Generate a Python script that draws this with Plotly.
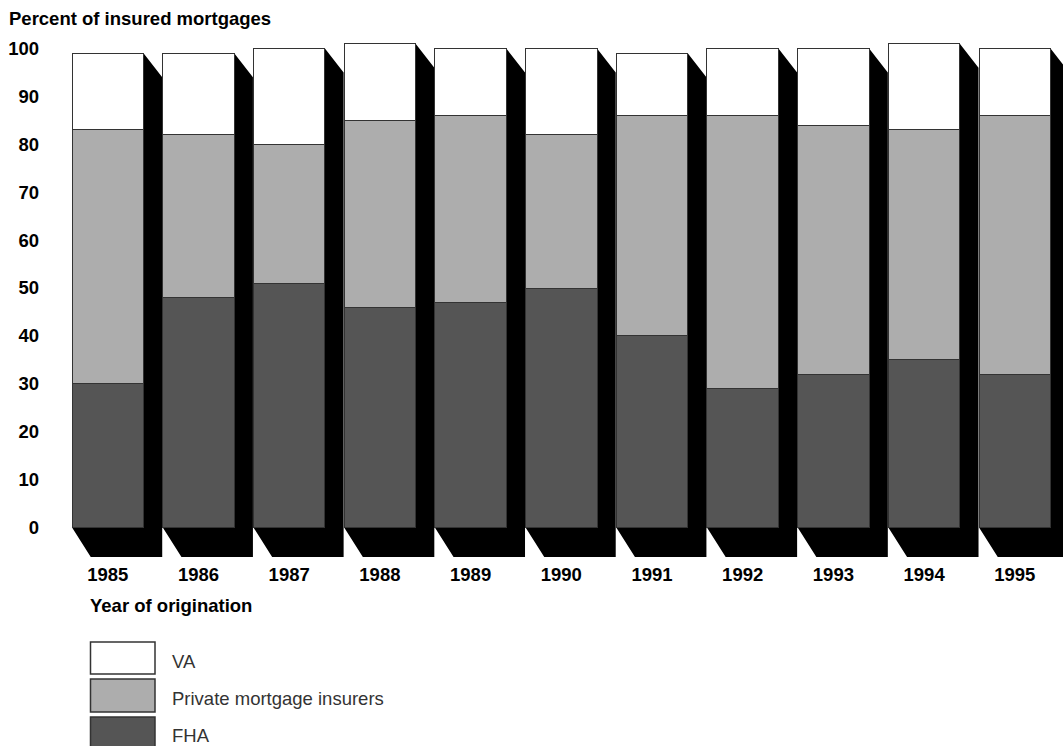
import plotly.graph_objects as go

years = ["1985", "1986", "1987", "1988", "1989", "1990", "1991", "1992", "1993", "1994", "1995"]
fha = [30, 48, 51, 46, 47, 50, 40, 29, 32, 35, 32]
private = [53, 34, 29, 39, 39, 32, 46, 57, 52, 48, 54]
va = [16, 17, 20, 16, 14, 18, 13, 14, 16, 18, 14]

series_names = ["FHA", "Private mortgage insurers", "VA"]
series_colors = ["#555555", "#adadad", "#ffffff"]

FONT = "Liberation Sans, Arial, Helvetica, sans-serif"
FS = 18.5
W, H = 1063, 746
L, R, T, B = 50, 0, 40, 186
plot_w = W - L - R
plot_h = H - T - B

x = list(range(len(years)))
bar_w = 0.788
# shadow depth in data units
dx = 0.206
dy_top = 5.0
dy_bot = 6.16

fig = go.Figure()
for name, vals, col in zip(series_names, [fha, private, va], series_colors):
    fig.add_trace(go.Bar(
        x=x, y=vals, name=name, width=bar_w,
        marker=dict(color=col, line=dict(color="#333333", width=1)),
        showlegend=False, hoverinfo="skip",
    ))

shapes = []
for i in x:
    tot = fha[i] + private[i] + va[i]
    xl = i - bar_w / 2
    xr = i + bar_w / 2
    path = (f"M {xr},{tot} L {xr+dx},{tot-dy_top} L {xr+dx},{-dy_bot} "
            f"L {xl+dx},{-dy_bot} L {xl},0 L {xr},0 Z")
    shapes.append(dict(type="path", path=path, xref="x", yref="y",
                       fillcolor="black", line=dict(width=0), layer="below"))

def px2paper_x(px):
    return (px - L) / plot_w

def px2paper_y(py):
    return (H - B - py) / plot_h

# legend (top to bottom: VA, Private, FHA)
legend_rows = [("VA", "#ffffff", 642, 674, 661.7),
               ("Private mortgage insurers", "#adadad", 679, 712, 698),
               ("FHA", "#555555", 717, 750, 735.7)]
annotations = []
for label, col, y0, y1, yc in legend_rows:
    shapes.append(dict(type="rect", xref="paper", yref="paper",
                       x0=px2paper_x(90.5), x1=px2paper_x(155),
                       y0=px2paper_y(y0), y1=px2paper_y(y1),
                       fillcolor=col, line=dict(color="#333333", width=1.5)))
    annotations.append(dict(text=label, xref="paper", yref="paper",
                            x=px2paper_x(170), y=px2paper_y(yc),
                            xanchor="left", yanchor="middle", showarrow=False,
                            font=dict(family=FONT, size=FS, color="#333333")))

annotations.append(dict(text="<b>Percent of insured mortgages</b>", xref="paper", yref="paper",
                        x=px2paper_x(7), y=px2paper_y(18.3), xanchor="left", yanchor="middle",
                        showarrow=False, font=dict(family=FONT, size=FS, color="black")))
annotations.append(dict(text="<b>Year of origination</b>", xref="paper", yref="paper",
                        x=px2paper_x(87.5), y=px2paper_y(605.7), xanchor="left", yanchor="middle",
                        showarrow=False, font=dict(family=FONT, size=FS, color="black")))

px_per_unit_x = 90.7
x0_center = 107.8
xr0 = (L - x0_center) / px_per_unit_x
xr1 = (W - R - x0_center) / px_per_unit_x
py_zero = 527.5
px_per_unit_y = 4.79
yr0 = (py_zero - (H - B)) / px_per_unit_y
yr1 = (py_zero - T) / px_per_unit_y

fig.update_layout(
    width=W, height=H,
    margin=dict(l=L, r=R, t=T, b=B, pad=0),
    barmode="stack",
    plot_bgcolor="white", paper_bgcolor="white",
    shapes=shapes, annotations=annotations,
    xaxis=dict(range=[xr0, xr1], tickvals=x, ticktext=years, showgrid=False,
               zeroline=False, showline=False, ticks="", ticklabelstandoff=1,
               tickfont=dict(family=FONT, size=FS, color="black", weight="bold")),
    yaxis=dict(range=[yr0, yr1], tickvals=list(range(0, 101, 10)), showgrid=False,
               zeroline=False, showline=False, ticks="", ticklabelstandoff=10,
               tickfont=dict(family=FONT, size=FS, color="black", weight="bold")),
    showlegend=False,
)

fig.write_html("out.html")
